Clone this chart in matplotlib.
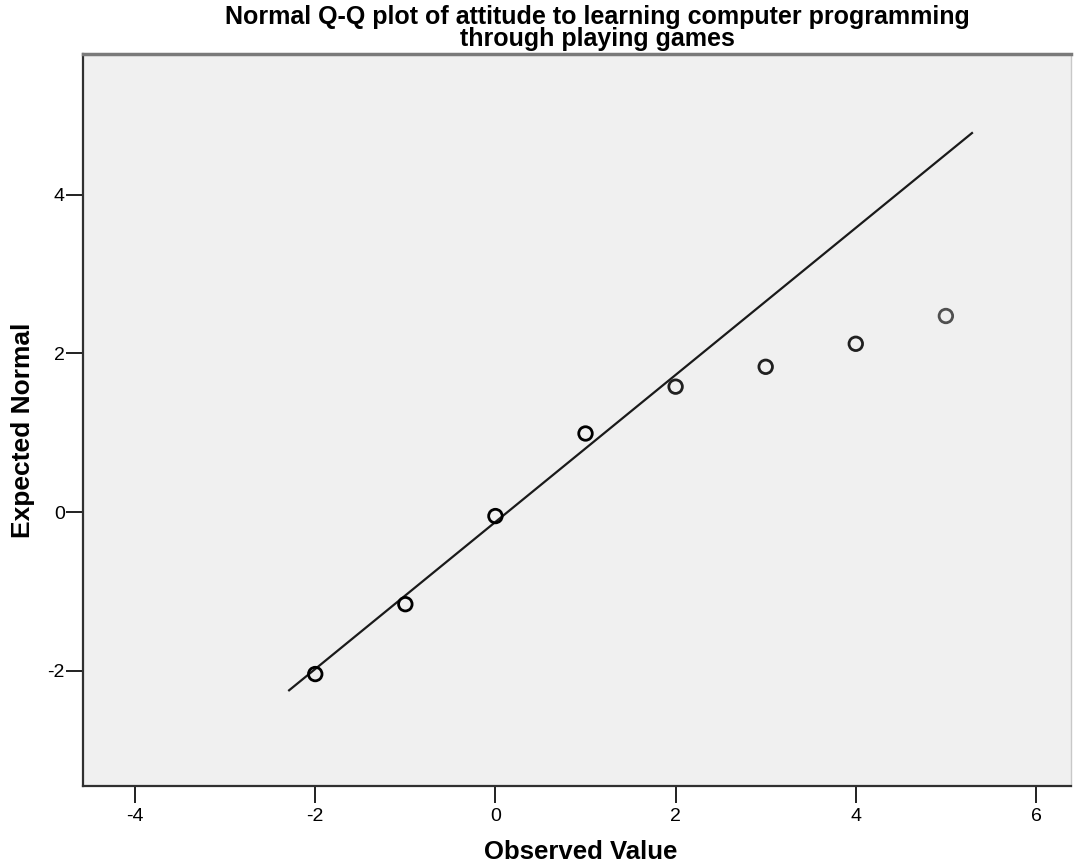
import matplotlib
matplotlib.use("Agg")
import matplotlib.pyplot as plt
import numpy as np

# Observed scores and their expected normal quantiles
observed = [-2, -1, 0, 1, 2, 3, 4, 5]
expected = [-2.04, -1.16, -0.05, 0.99, 1.58, 1.83, 2.12, 2.47]
# darker rings where several cases share a point
ring_colors = ["#000000", "#000000", "#000000", "#000000",
               "#202020", "#202020", "#202020", "#505050"]

# reference line of the fitted normal
line_x = [-2.29, 5.29]
slope = 0.926
intercept = -0.124

x_ticks = [-4, -2, 0, 2, 4, 6]
y_ticks = [-2, 0, 2, 4]

title_lines = ["Normal Q-Q plot of attitude to learning computer programming",
               "through playing games"]

FONT = ["Liberation Sans", "DejaVu Sans"]

fig = plt.figure(figsize=(10.83, 8.68), dpi=100)
ax = fig.add_axes([83 / 1083, 82 / 868, 988 / 1083, 732 / 868])
ax.set_facecolor("#f0f0f0")

lx = np.array(line_x)
ax.plot(lx, slope * lx + intercept, color="#1a1a1a", lw=1.6, zorder=2)
ax.scatter(observed, expected, s=95, facecolors="none",
           edgecolors=ring_colors, linewidths=2.0, zorder=3)

ax.set_xlim(-4.578, 6.389)
ax.set_ylim(-3.45, 5.77)
ax.set_xticks(x_ticks)
ax.set_yticks(y_ticks)

tick_font = {"family": FONT, "size": 14}
ax.set_xticklabels([str(t) for t in x_ticks], fontdict=tick_font)
ax.set_yticklabels([str(t) for t in y_ticks], fontdict=tick_font)
ax.tick_params(direction="out", length=12, width=1.4, color="#202020")
ax.tick_params(axis="x", pad=4)
ax.tick_params(axis="y", pad=1)

for side in ["left", "bottom"]:
    ax.spines[side].set_color("#303030")
    ax.spines[side].set_linewidth(1.6)
ax.spines["top"].set_color("#7a7a7a")
ax.spines["top"].set_linewidth(2.5)
ax.spines["right"].set_color("#c8c8c8")
ax.spines["right"].set_linewidth(1.0)

# two-line title, placed line by line
for line, y_px in zip(title_lines, [17, 39]):
    fig.text(597 / 1083, 1 - y_px / 868, line, ha="center", va="center",
             fontsize=18, fontweight="bold", family=FONT)
fig.text(581 / 1083, 1 - 852 / 868, "Observed Value", ha="center", va="center",
         fontsize=18.5, fontweight="bold", family=FONT)
fig.text(23 / 1083, 1 - 430 / 868, "Expected Normal", ha="center", va="center",
         rotation=90, fontsize=19, fontweight="bold", family=FONT)

fig.savefig("out.png", dpi=100, facecolor="white")
